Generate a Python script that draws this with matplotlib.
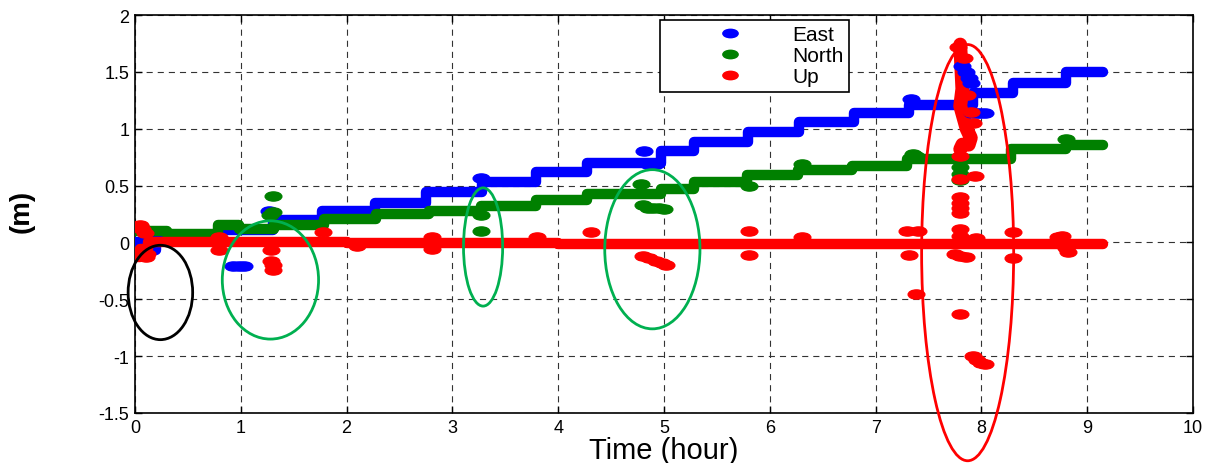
import numpy as np
import matplotlib.pyplot as plt
from matplotlib.path import Path
from matplotlib.patches import Ellipse
from matplotlib.lines import Line2D

plt.rcParams["font.family"] = ["Liberation Sans", "DejaVu Sans"]

# step series: each value holds from its time until the next time
east_t = [0.00, 0.10, 0.20, 0.78, 1.30, 1.77, 2.27, 2.75, 3.28, 3.79, 4.27, 4.97,
          5.28, 5.79, 6.28, 6.80, 7.32, 7.92, 8.30, 8.80, 9.15]
east_v = [0.00, -0.07, 0.03, 0.11, 0.20, 0.28, 0.35, 0.44, 0.53, 0.62, 0.70, 0.80,
          0.88, 0.97, 1.06, 1.14, 1.21, 1.31, 1.40, 1.50, 1.50]

north_t = [0.00, 0.30, 0.78, 0.98, 1.31, 1.79, 2.28, 2.78, 3.27, 3.79, 4.27, 4.97,
           5.28, 5.78, 6.27, 6.78, 7.30, 8.28, 8.80, 9.15]
north_v = [0.10, 0.07, 0.15, 0.12, 0.15, 0.21, 0.25, 0.28, 0.32, 0.37, 0.43, 0.47,
           0.53, 0.59, 0.64, 0.67, 0.73, 0.82, 0.86, 0.86]

up_t = [0.00, 0.05, 0.12, 1.00, 2.00, 3.00, 4.00, 4.97, 6.00, 7.00, 8.00, 9.15]
up_v = [-0.13, -0.06, 0.005, 0.0, -0.005, -0.005, -0.01, -0.01, -0.015, -0.015, -0.015, -0.015]

# dense vertical burst of the Up component near 7.8 h
up_burst_t = [7.80, 7.81, 7.82, 7.80, 7.83, 7.86, 7.90, 7.88, 7.82, 7.80]
up_burst_v = [1.74, 1.55, 1.35, 1.20, 1.10, 1.00, 0.92, 0.86, 0.86, 0.82]

# isolated points / clusters off the main steps
east_out_t = [0.93, 0.98, 1.03, 1.27, 1.29, 3.27, 4.81, 7.33, 7.82, 7.85, 7.88, 7.90,
              7.91, 7.95, 7.99, 8.03, 4.85, 4.92]
east_out_v = [-0.21, -0.21, -0.21, 0.28, 0.25, 0.57, 0.80, 1.26, 1.55, 1.50, 1.45, 1.40,
              1.14, 1.14, 1.14, 1.14, 0.69, 0.69]

north_out_t = [0.05, 0.08, 1.30, 1.30, 1.28, 3.27, 3.27, 4.78, 4.80, 4.85, 4.90, 4.95,
               5.00, 7.80, 7.80, 8.80, 5.80, 6.30, 7.35, 7.38, 7.80]
north_out_v = [0.13, 0.12, 0.41, 0.27, 0.24, 0.10, 0.24, 0.51, 0.33, 0.30, 0.30, 0.30,
               0.29, 0.60, 0.55, 0.91, 0.50, 0.69, 0.78, 0.76, 0.66]

up_out_t = [0.03, 0.05, 0.07, 0.09, 0.11, 0.10, 0.79, 0.79, 1.29, 1.29, 1.30, 1.30,
            1.78, 2.10, 2.81, 2.81, 3.80, 4.31, 4.80, 4.86, 4.92, 4.98, 5.02,
            5.80, 5.80, 6.30, 7.30, 7.32, 7.40, 7.38,
            7.78, 7.84, 7.86, 7.90, 7.92,
            7.80, 7.80, 7.80, 7.80, 7.80, 7.80, 7.80, 7.80,
            7.80, 7.92, 7.96, 8.00, 8.03, 7.95, 7.94, 7.75, 7.80, 7.85,
            8.30, 8.30, 8.72, 8.76, 8.80, 8.82]
up_out_v = [0.14, 0.15, 0.12, 0.08, -0.10, -0.13, 0.05, -0.07, -0.07, -0.16, -0.20, -0.24,
            0.09, -0.03, 0.05, -0.06, 0.05, 0.09, -0.12, -0.14, -0.16, -0.18, -0.20,
            0.10, -0.11, 0.05, 0.10, -0.11, 0.10, -0.45,
            1.72, 1.62, 1.30, 1.15, 1.05,
            0.76, 0.56, 0.40, 0.35, 0.30, 0.26, 0.12, 0.06,
            -0.63, -1.00, -1.03, -1.06, -1.07, 0.035, 0.58, -0.10, -0.12, -0.13,
            0.09, -0.14, 0.05, 0.06, -0.05, -0.08]

# annotation ellipses: (centre t, centre value, width, height, colour)
marks = [
    (0.24, -0.44, 0.61, 0.83, "black"),
    (1.28, -0.33, 0.91, 1.04, "#00b050"),
    (3.29, -0.04, 0.37, 1.04, "#00b050"),
    (4.89, -0.06, 0.90, 1.40, "#00b050"),
    (7.87, -0.09, 0.87, 3.66, "red"),
]

BLUE, GREEN, RED = "#0000ff", "#008000", "#ff0000"

# dots in the original look stretched sideways
circ = Path.unit_circle()
dot = Path(circ.vertices * [1.0, 0.55], circ.codes)

fig = plt.figure(figsize=(12.18, 4.64), dpi=100)
ax = fig.add_axes([135 / 1218, 50 / 464, 1058 / 1218, 398 / 464])

for t, v, c in [(east_t, east_v, BLUE), (north_t, north_v, GREEN), (up_t, up_v, RED)]:
    ax.plot(t, v, drawstyle="steps-post", color=c, lw=7.5,
            solid_capstyle="round", solid_joinstyle="round", zorder=3)

ax.plot(up_burst_t, up_burst_v, color=RED, lw=10, solid_capstyle="round",
        solid_joinstyle="round", zorder=4)

for t, v, c in [(east_out_t, east_out_v, BLUE), (north_out_t, north_out_v, GREEN),
                (up_out_t, up_out_v, RED)]:
    ax.plot(t, v, ls="none", marker=dot, ms=12, color=c, mec=c, zorder=4)

for cx, cy, w, h, c in marks:
    e = Ellipse((cx, cy), w, h, fill=False, ec=c, lw=2, zorder=5)
    e.set_clip_on(False)
    ax.add_patch(e)

ax.set_xlim(0, 10)
ax.set_ylim(-1.5, 2)
ax.set_xticks(np.arange(0, 11, 1))
ax.set_yticks(np.arange(-1.5, 2.01, 0.5))
ax.set_yticklabels(["-1.5", "-1", "-0.5", "0", "0.5", "1", "1.5", "2"])
ax.tick_params(direction="in", top=True, right=True, length=5, width=1,
               labelsize=13, pad=4)
ax.grid(True, ls=(0, (5.5, 4.5)), color="#333333", lw=0.8)
ax.set_axisbelow(True)
for s in ax.spines.values():
    s.set_linewidth(1.2)

ax.set_xlabel("Time (hour)", fontsize=21, labelpad=0)
ax.set_ylabel("(m)", fontsize=20, fontweight="bold")
ax.yaxis.set_label_coords(-0.095, 0.51)

handles = [Line2D([], [], ls="none", marker=dot, ms=11, color=c, mec=c)
           for c in (BLUE, GREEN, RED)]
ax.legend(handles, ["East", "North", "Up"], loc="upper left",
          bbox_to_anchor=(660 / 1218, 1 - 21 / 464), bbox_transform=fig.transFigure,
          fontsize=15, frameon=True, fancybox=False, framealpha=1, edgecolor="black",
          borderpad=0.25, labelspacing=0.1, handlelength=6.2, handletextpad=-0.1,
          borderaxespad=0)
ax.get_legend().get_frame().set_linewidth(1.2)

fig.savefig("out.png", dpi=100)
